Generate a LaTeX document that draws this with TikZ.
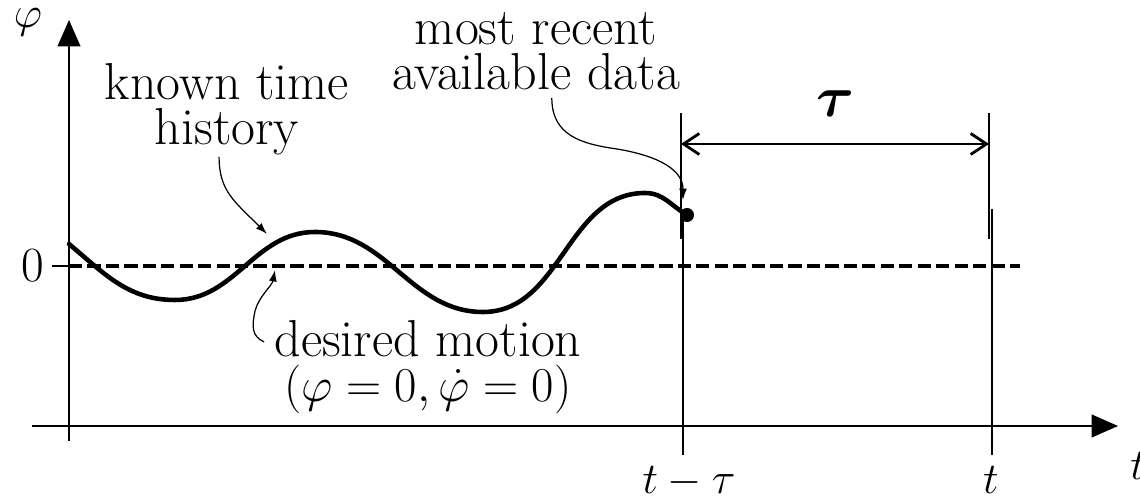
\RequirePackage{fix-cm}
\documentclass[tikz,border=0pt]{standalone}
\usepackage{amsmath}
\usepackage{tikz}
\usetikzlibrary{arrows.meta, positioning}

\begin{document}
\begin{tikzpicture}[x=0.02cm, y=0.02cm,
        axis/.style={line width=0.9pt, -{Triangle[length=15pt, width=13pt]}},
        guide/.style={line width=0.8pt},
        marker/.style={line width=1.6pt},
        history/.style={line width=2.6pt, line cap=round},
        zeroline/.style={line width=1.8pt, dash pattern=on 7.5pt off 3pt},
        note/.style={line width=0.7pt, -{Latex[length=6.5pt, width=4.5pt]}},
        textlabel/.style={inner sep=0pt, font=\fontsize{25}{25}\selectfont, align=center},
        notelabel/.style={inner sep=0pt, font=\fontsize{29.6}{25.5}\selectfont, align=center}]
    \useasboundingbox (-69,-73) rectangle (1071,426);

    % axes
    \draw[axis] (-37,0) -- (1049,0);
    \draw[axis] (0,-15) -- (0,406);
    \node[textlabel] (phi) at (-41,404) {$\varphi$};
    \node[textlabel, anchor=base west] (taxis) at (1061,-54) {$t$};

    \draw[guide] (-17,160) -- (0,160);
    \node[textlabel, font=\fontsize{28}{28}\selectfont] (zero) at (-36,160) {$0$};
    \draw[zeroline] (0,160) -- (951,160);

    % time history
    \draw[history] (0,182) to[out=-40, in=180] (106,126) to[out=0, in=180] (246,194)
        to[out=0, in=180] (414,114) to[out=0, in=180] (576,233) to[out=0, in=150] (618,211);
    \node[circle, fill, inner sep=0pt, minimum size=8pt] (latest) at (618,211) {};

    \coordinate (delaytop) at (614,211);
    \coordinate (nowtop) at (923,217);
    \draw[guide] (delaytop) -- (614,-29);
    \draw[guide] (nowtop) -- (923,-29);
    \draw[marker] (612,187) -- (612,313);
    \draw[marker] (920,187) -- (920,313);
    \draw[marker, {Straight Barb[length=9pt, width=12pt]}-{Straight Barb[length=9pt, width=12pt]}] (612,282) -- (920,282);
    \node[font=\fontsize{33}{33}\selectfont] (tau) at (766,322) {$\boldsymbol{\tau}$};

    \node[textlabel, anchor=base] (tdelay) at (620,-68) {$t-\tau$};
    \node[textlabel, anchor=base] (tnow) at (922,-68) {$t$};

    % annotations
    \node[notelabel, anchor=north] (known) at (158,363) {known time\\history};
    \node[notelabel, anchor=south] (recent) at (467,336) {most recent\\available data};
    \node[notelabel, anchor=north] (desired) at (359,106)
        {desired motion\\{\fontsize{27.7}{25.5}\selectfont $(\varphi=0,\dot{\varphi}=0)$}};

    \coordinate (knowntip) at (198,192);
    \coordinate (recenttip) at (614,226);
    \coordinate (desiredtip) at (206,156);

    \draw[note] ([xshift=-4.5pt, yshift=-1pt]known.south) .. controls +(0,-34) and +(-33,33) .. (knowntip);
    \draw[note] ([xshift=9pt, yshift=-4.5pt]recent.south) .. controls +(0,-38) and +(-35,5) .. (548,277)
        .. controls +(42,-7) and +(0,30) .. (recenttip);
    \draw[note] ([xshift=-5.7pt, yshift=-12.5pt]desired.north west) .. controls +(-13,6) and +(-3,-15) .. (186,115)
        .. controls +(4,15) and +(-3,-16) .. (desiredtip);
\end{tikzpicture}
\end{document}
